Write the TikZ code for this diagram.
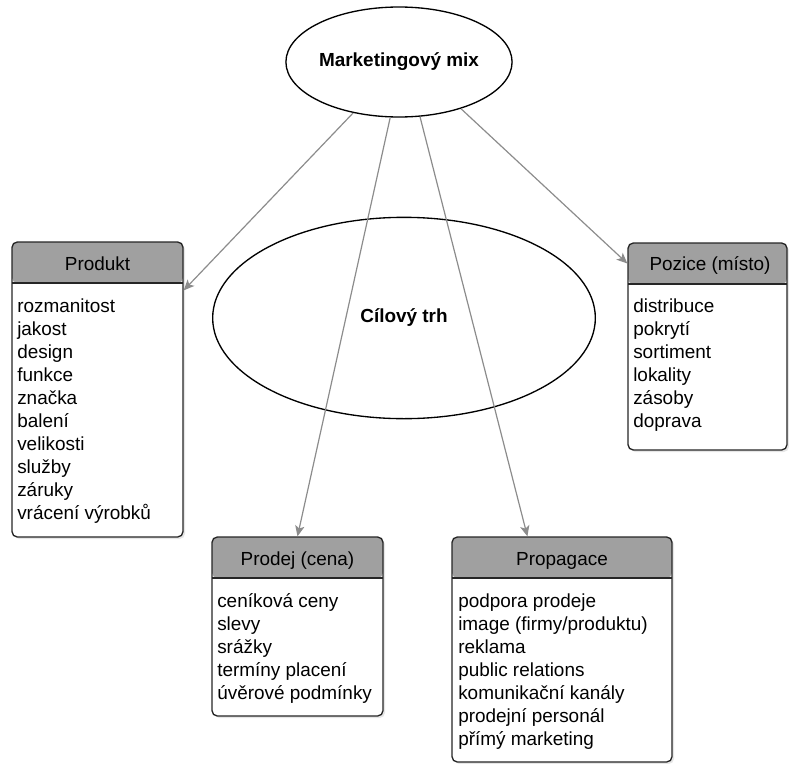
\documentclass[tikz,border=0pt]{standalone}
\usepackage{fontspec}
\setmainfont{Liberation Sans}
\usetikzlibrary{shapes.geometric,arrows.meta,fit,shadows}

\definecolor{headgray}{HTML}{A0A0A0}
\definecolor{arrowgray}{HTML}{8C8C8C}

\begin{document}
\begin{tikzpicture}[x=0.75pt,y=-0.75pt,font=\fontsize{14.2}{17}\selectfont,
    bubble/.style={ellipse,draw,line width=1pt,inner sep=0pt},
    listbox/.style={draw=black!85,line width=1pt,fill=white,rounded corners=4pt,inner sep=0pt,
      drop shadow={shadow xshift=1.5pt,shadow yshift=-1.5pt,opacity=0.2},
      path picture={
        \fill[headgray] (path picture bounding box.north west) rectangle ([yshift=-30.75pt]path picture bounding box.north east);
        \draw[line width=1pt,black!85] ([yshift=-30.75pt]path picture bounding box.north west) -- ([yshift=-30.75pt]path picture bounding box.north east);
      }},
    title/.style={anchor=base,inner sep=0pt},
    entry/.style={anchor=base west,inner sep=0pt},
    connector/.style={draw=arrowgray,line width=0.9pt,-{Stealth[length=8pt,width=7pt,inset=2pt]}}]

        \useasboundingbox (0,0) rectangle (789,764);

        % ellipses
        \node[bubble,minimum width=166.5pt,minimum height=82.5pt] (mix) at (399,62) {\bfseries Marketingový mix};
        \node[bubble,minimum width=287pt,minimum height=151pt] (trh) at (404,318) {\bfseries Cílový trh};

        % boxes
        \node[listbox,fit={(12,242) (183,537)}] (produkt) {};
        \node[listbox,fit={(628,243) (787,450)}] (pozice) {};
        \node[listbox,fit={(212,537) (383,716)}] (prodej) {};
        \node[listbox,fit={(452,537) (672,762)}] (propagace) {};

        \node[title] (produkt-t)   at (97.5,270)  {Produkt};
        \node[title] (pozice-t)    at (710,270)   {Pozice (místo)};
        \node[title] (prodej-t)    at (297.5,565) {Prodej (cena)};
        \node[title] (propagace-t) at (562,565)   {Propagace};

        \foreach \txt [count=\i] in {rozmanitost,jakost,design,funkce,značka,balení,velikosti,služby,záruky,vrácení výrobků}
          \node[entry] (produkt-\i) at (17,{289+23*\i}) {\txt};
        \foreach \txt [count=\i] in {distribuce,pokrytí,sortiment,lokality,zásoby,doprava}
          \node[entry] (pozice-\i) at (633,{289+23*\i}) {\txt};
        \foreach \txt [count=\i] in {ceníková ceny,slevy,srážky,termíny placení,úvěrové podmínky}
          \node[entry] (prodej-\i) at (217,{584+23*\i}) {\txt};
        \foreach \txt [count=\i] in {podpora prodeje,image (firmy/produktu),reklama,public relations,komunikační kanály,prodejní personál,přímý marketing}
          \node[entry] (propagace-\i) at (458,{584+23*\i}) {\txt};

        % connectors
        \path[connector] (mix.228) -- (produkt.49);
        \path[connector] (mix.261) -- (prodej.north);
        \path[connector] (mix.291) -- (propagace.107);
        \path[connector] (mix.323) -- (pozice.134);

\end{tikzpicture}
\end{document}
